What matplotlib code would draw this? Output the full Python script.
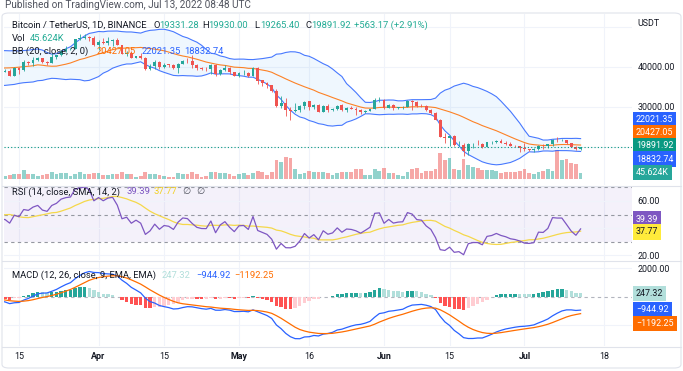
import numpy as np
import pandas as pd
import matplotlib
matplotlib.use('Agg')
import matplotlib.pyplot as plt
import matplotlib.dates as mdates
from matplotlib.lines import Line2D
from matplotlib.patches import FancyBboxPatch

plt.rcParams['font.family'] = ['Roboto', 'DejaVu Sans']

# --- DATA -------------------------------------------------------------
# daily closes before the visible window, only used to warm up BB / RSI / MACD
hist_start = '2022-01-15'
hist_close = [43080, 43200, 42250, 42370, 41660, 40680, 36450, 35070, 36280, 36650, 36960,
              36810, 37160, 37710, 38170, 37920, 38470,
              38740, 36900, 37330, 41570, 41380, 42410, 43840, 44040, 44370, 43500, 42390,
              42210, 42050, 42540, 44540, 43870, 40510, 39970, 40090, 38390, 37010, 38240,
              37250, 38330, 39210, 39110, 37700, 43190,
              44420, 43920, 42450, 39150, 39400, 38420, 37990, 38730, 41940, 39420]

# visible window: 2022-03-11 .. 2022-07-13
start = '2022-03-11'
close = [38730, 38810, 37780, 39670, 39280, 41110, 40920, 41760, 42200, 41260, 41000, 42360,
         42880, 43960, 44350, 44510, 46820, 47130, 47430, 47070, 45510,
         46280, 45810, 46410, 46580, 45500, 43170, 43440, 42250, 42750, 42160, 39530, 40070,
         41150, 39940, 40550, 40380, 39680, 40800, 41490, 41360, 40480, 39710, 39470, 39450,
         40430, 38120, 39240, 39740, 38600, 37630,
         38470, 38520, 37730, 39690, 36550, 36010, 35470, 34040, 30080, 31020, 29100, 29050,
         29280, 30080, 31300, 29860, 30420, 28720, 30290, 29200, 29430, 30300, 29100, 29650,
         29540, 29200, 28620, 29020, 29450, 31720, 31800,
         29800, 30450, 29700, 29860, 29910, 31370, 31130, 30200, 30110, 29090, 28420, 26570,
         22490, 22140, 22580, 20380, 20470, 19020, 20550, 20720, 20710, 19990, 21110, 21230,
         21500, 21030, 20740, 20280, 20100, 19780,
         19300, 19240, 19300, 20230, 20190, 20550, 21640, 21590, 21590, 20850, 19960,
         19328.75, 19891.92]
high = [40250, 39490, 39310, 39950, 39890, 41720, 41480, 42330, 42400, 42300, 41540, 43360,
        43000, 44200, 45090, 44800, 46920, 48190, 48100, 47700, 47600,
        46720, 47210, 47440, 46890, 47200, 45510, 43900, 43970, 42800, 43420, 42420, 40700,
        41560, 41500, 40850, 40710, 40600, 40950, 41760, 42200, 42980, 40800, 39980, 39930,
        40620, 40800, 39470, 40370, 39920, 38800,
        38670, 39170, 38650, 40000, 39850, 36660, 36150, 35500, 34320, 32650, 32200, 30030,
        30980, 30300, 31400, 31320, 30790, 30680, 30520, 30770, 29650, 30480, 30660, 29820,
        30200, 29850, 29380, 29230, 29530, 32230, 32400,
        31980, 30650, 30680, 29960, 30180, 31770, 31560, 31340, 30690, 30360, 29450, 28560,
        26900, 23360, 22800, 22980, 21360, 20800, 20800, 21000, 21720, 20880, 21230, 21520,
        21600, 21870, 21520, 21200, 20400, 20180,
        20880, 19420, 19650, 20350, 20740, 20680, 21830, 22530, 21950, 21600, 20880, 20060,
        19930.00]
low = [38220, 38660, 37580, 37580, 38100, 38840, 40500, 40140, 41510, 40910, 40500, 40880,
       41820, 42570, 43580, 44070, 44420, 46660, 46950, 46540, 45200,
       44200, 45620, 45520, 45120, 45350, 43120, 42730, 42110, 42120, 41870, 39200, 39250,
       39550, 39550, 39770, 40020, 39550, 38540, 40570, 40850, 39750, 39190, 39280, 38960,
       38200, 37700, 37870, 38880, 38180, 37580,
       37390, 38050, 37500, 37670, 35570, 35260, 34800, 33710, 30000, 29730, 27780, 26700,
       28730, 28630, 29480, 29090, 29400, 28650, 28680, 28730, 28950, 29240, 28900, 28670,
       29310, 28020, 28250, 28540, 28850, 29300, 31200,
       29300, 29580, 29280, 29480, 29520, 29880, 29220, 29850, 29940, 28850, 28100, 26560,
       22400, 20850, 20110, 20230, 20250, 17620, 17960, 19640, 20350, 19770, 19890, 20700,
       20920, 20960, 20500, 20180, 19850, 18630,
       18980, 18980, 18780, 19050, 19300, 19760, 20250, 21190, 21350, 20650, 19900, 19240,
       19265.40]
volume_k = [40, 21, 29, 43, 43, 75, 37, 37, 27, 32, 37, 53, 43, 48, 48, 21, 37, 53, 37, 43, 45,
            48, 32, 32, 37, 37, 53, 37, 37, 16, 27, 53, 43, 43, 32, 21, 16, 16, 48, 37, 43,
            53, 43, 16, 21, 53, 59, 48, 48, 43, 27,
            37, 48, 32, 48, 64, 53, 32, 59, 155, 139, 176, 165, 80, 43, 45, 61, 56, 59, 56,
            45, 35, 45, 56, 56, 56, 77, 77, 35, 35, 83, 61,
            88, 51, 45, 35, 24, 56, 83, 88, 51, 61, 61, 77, 205, 152, 168, 83, 72, 163, 109,
            99, 88, 72, 72, 72, 67, 45, 56, 56, 56, 67,
            83, 45, 40, 56, 61, 77, 67, 232, 152, 157, 125, 120, 45.624]

tick_dates = ['2022-03-15', '2022-04-01', '2022-04-15', '2022-05-01', '2022-05-16',
              '2022-06-01', '2022-06-15', '2022-07-01', '2022-07-18']
tick_labels = ['15', 'Apr', '15', 'May', '16', 'Jun', '15', 'Jul', '18']

# values shown in the legends / price scale
last_ohlc = ['19331.28', '19930.00', '19265.40', '19891.92']
change_txt = '+563.17 (+2.91%)'
vol_txt = '45.624K'
bb_txt = ['20427.05', '22021.35', '18832.74']
rsi_txt = ['39.39', '37.77']
macd_txt = ['247.32', '\u2212944.92', '\u22121192.25']

# --- INDICATORS ---------------------------------------------------------
hist_idx = pd.date_range(hist_start, periods=len(hist_close), freq='D')
vis_idx = pd.date_range(start, periods=len(close), freq='D')
c_all = pd.Series(hist_close + close, index=hist_idx.append(vis_idx), dtype=float)

basis = c_all.rolling(20).mean()
dev = c_all.rolling(20).std(ddof=0) * 2
upper, lower = basis + dev, basis - dev

delta = c_all.diff()
gain = delta.clip(lower=0).ewm(alpha=1 / 14, adjust=False).mean()
loss = (-delta.clip(upper=0)).ewm(alpha=1 / 14, adjust=False).mean()
rsi = 100 - 100 / (1 + gain / loss)
rsi_ma = rsi.rolling(14).mean()

macd = c_all.ewm(span=12, adjust=False).mean() - c_all.ewm(span=26, adjust=False).mean()
signal = macd.ewm(span=9, adjust=False).mean()
hist = macd - signal

c = np.array(close, dtype=float)
o = c_all.shift(1).loc[vis_idx].values
h = np.maximum(np.array(high, dtype=float), np.maximum(o, c))
l = np.minimum(np.array(low, dtype=float), np.minimum(o, c))
up = c >= o

# --- FIGURE -------------------------------------------------------------
W, H = 683, 371
fig = plt.figure(figsize=(W / 100, H / 100), dpi=100)
fig.patch.set_facecolor('white')
FS = 6.4      # price scale / time axis
FL = 6.75     # legends
DARK = '#131722'
GRID = '#f0f3fa'
UP, DOWN = '#26a69a', '#ef5350'


def fx(x):
    return x / W


def fy(y):
    return 1 - y / H


def pane(top, bottom, left=4, right=632):
    return fig.add_axes([left / W, 1 - bottom / H, (right - left) / W, (bottom - top) / H])


ax_v = pane(14, 185)
ax_p = pane(14, 185)
ax_r = pane(186, 260)
ax_m = pane(261, 346)

x_all = mdates.date2num(c_all.index)
x = mdates.date2num(vis_idx)
ppd = 4.68  # pixels per day in the reference
x15 = mdates.date2num(pd.Timestamp('2022-03-15'))
xlim = (x15 - 15 / ppd, x15 + 613 / ppd)
tx = mdates.date2num(pd.to_datetime(tick_dates))

for ax in (ax_v, ax_p, ax_r, ax_m):
    ax.set_xlim(*xlim)
    for s in ax.spines.values():
        s.set_visible(False)
    ax.tick_params(length=0, labelsize=FS, labelcolor=DARK)
    ax.set_xticks([])
    ax.yaxis.tick_right()
    ax.patch.set_visible(False)

# vertical grid
for ax in (ax_v, ax_r, ax_m):
    for t in tx:
        ax.axvline(t, color=GRID, lw=0.8, zorder=0)

# volume
ax_v.set_ylim(-48, 1320)
ax_v.set_yticks([])
ax_v.bar(x, volume_k, width=0.8, color=np.where(up, '#26a69a80', '#ef535080'), zorder=1)

# price pane
ax_p.set_ylim(10425, 53175)
for lvl in (20000, 30000, 40000, 50000):
    ax_v.axhline(ax_v.transData.inverted().transform(ax_p.transData.transform((0, lvl)))[1],
                 color=GRID, lw=0.8, zorder=0)
ax_p.set_yticks([30000, 40000])
ax_p.set_yticklabels(['%.2f' % v for v in (30000, 40000)])
ax_p.tick_params(axis='y', pad=3.8)
ax_p.fill_between(x_all, lower, upper, color='#2196f3', alpha=0.07, lw=0, zorder=1)
ax_p.plot(x_all, upper, color='#2962ff', lw=0.8, alpha=0.85, zorder=2)
ax_p.plot(x_all, lower, color='#2962ff', lw=0.8, alpha=0.85, zorder=2)
ax_p.plot(x_all, basis, color='#ff6d00', lw=0.8, alpha=0.85, zorder=2)
ccol = np.where(up, UP, DOWN)
ax_p.vlines(x, l, h, color=ccol, lw=0.6, zorder=3)
body = np.maximum(np.abs(c - o), 60)
ax_p.bar(x, body, bottom=np.minimum(o, c), width=0.62, color=ccol, zorder=4)
ax_p.axhline(c[-1], color='#089981', lw=0.8, ls=(0, (1, 2)), zorder=5)

# RSI pane
ax_r.set_ylim(16.54, 70.96)
ax_r.axhspan(30, 70, color='#7e57c2', alpha=0.08, lw=0, zorder=0)
for lvl in (20, 40, 60):
    ax_r.axhline(lvl, color=GRID, lw=0.8, zorder=0)
for lvl in (70, 50, 30):
    ax_r.axhline(lvl, color='#9598a1', lw=0.8, ls=(0, (3, 3)), zorder=1)
ax_r.plot(x_all, rsi_ma, color='#f5d84a', lw=0.9, zorder=2)
ax_r.plot(x_all, rsi, color='#7e57c2', lw=0.9, zorder=3)
ax_r.set_yticks([20, 60])
ax_r.set_yticklabels(['20.00', '60.00'])
ax_r.tick_params(axis='y', pad=3.8)

# MACD pane
ax_m.set_ylim(-3471, 2513)
for lvl in (2000, -2000):
    ax_m.axhline(lvl, color=GRID, lw=0.8, zorder=0)
ax_m.axhline(0, color='#b2b5be', lw=0.8, ls=(0, (3, 3)), zorder=1)
hv = hist.values
prev = np.r_[np.nan, hv[:-1]]
hcol = np.where(hv >= 0, np.where(hv > prev, '#26a69a', '#b2dfdb'),
                np.where(hv < prev, '#ff5252', '#ffcdd2'))
ax_m.bar(x_all, hv, width=0.72, color=hcol, zorder=2)
ax_m.plot(x_all, macd, color='#2962ff', lw=0.9, zorder=3)
ax_m.plot(x_all, signal, color='#ff6d00', lw=0.9, zorder=3)
ax_m.set_yticks([2000])
ax_m.set_yticklabels(['2000.00'])
ax_m.tick_params(axis='y', pad=3.8)
ax_m.set_xticks(tx)
ax_m.set_xticklabels(tick_labels)
ax_m.tick_params(axis='x', pad=4.6, labelsize=FS, labelcolor=DARK)
for lab in ax_m.get_xticklabels():
    if not lab.get_text().isdigit():
        lab.set_fontweight('bold')

# separators and frame
for yy in (185.5, 260.5, 346.5):
    fig.add_artist(Line2D([fx(2), fx(681)], [fy(yy), fy(yy)], color='#e0e3eb', lw=0.8))
fig.add_artist(FancyBboxPatch((fx(2), fy(368)), fx(679), (368 - 13) / H,
                              boxstyle='round,pad=0,rounding_size=0.01',
                              fc='none', ec='#e0e3eb', lw=0.8, transform=fig.transFigure))

# --- TEXT ---------------------------------------------------------------
fig.text(fx(5), fy(5.5), 'Published on TradingView.com, Jul 13, 2022 08:48 UTC',
         fontsize=7.2, color='#50535e', va='center')


def t(xp, yp, s, col=DARK, **kw):
    fig.text(fx(xp), fy(yp), s, fontsize=FL, color=col, va='center', **kw)


GREEN = '#22ab94'
t(12, 25.5, 'Bitcoin / TetherUS, 1D, BINANCE')
for xp, k, v in zip((153, 202, 254, 305), 'OHLC', last_ohlc):
    t(xp, 25.5, k)
    t(xp + 5.8, 25.5, v, GREEN)
t(354, 25.5, change_txt, GREEN)
t(12, 38.5, 'Vol')
t(30, 38.5, vol_txt, GREEN)
t(12, 51.5, 'BB (20, close, 2, 0)')
t(97, 51.5, bb_txt[0], '#ff6d00')
t(142, 51.5, bb_txt[1], '#2962ff')
t(184, 51.5, bb_txt[2], '#2962ff')
t(12, 192, 'RSI (14, close, SMA, 14, 2)')
t(127, 192, rsi_txt[0], '#7e57c2')
t(154, 192, rsi_txt[1], '#f2d024')
t(182, 192, '\u2205', '#50535e')
t(196, 192, '\u2205', '#50535e')
t(12, 275, 'MACD (12, 26, close, 9, EMA, EMA)')
t(162, 275, macd_txt[0], '#b2dfdb')
t(196, 275, macd_txt[1], '#2962ff')
t(234, 275, macd_txt[2], '#ff6d00')

fig.text(fx(637), fy(24), 'USDT', fontsize=FS, color=DARK, va='center')


def tag(yp, s, fc, col='white'):
    fig.text(fx(636), fy(yp), s, fontsize=FS, color=col, va='center', ha='left',
             bbox=dict(boxstyle='square,pad=0.35', fc=fc, ec='none'))


tag(120, bb_txt[1], '#2962ff')
tag(133, bb_txt[0], '#ff6d00')
tag(146, last_ohlc[3], '#089981')
tag(159, bb_txt[2], '#2962ff')
tag(172.5, vol_txt, '#26a69a')
tag(219, rsi_txt[0], '#7e57c2')
tag(232, rsi_txt[1], '#ffeb3b', DARK)
tag(293.5, macd_txt[0], '#b2dfdb', DARK)
tag(309.5, macd_txt[1], '#2962ff')
tag(323.5, macd_txt[2], '#ff6d00')

fig.savefig('out.png', dpi=100)
